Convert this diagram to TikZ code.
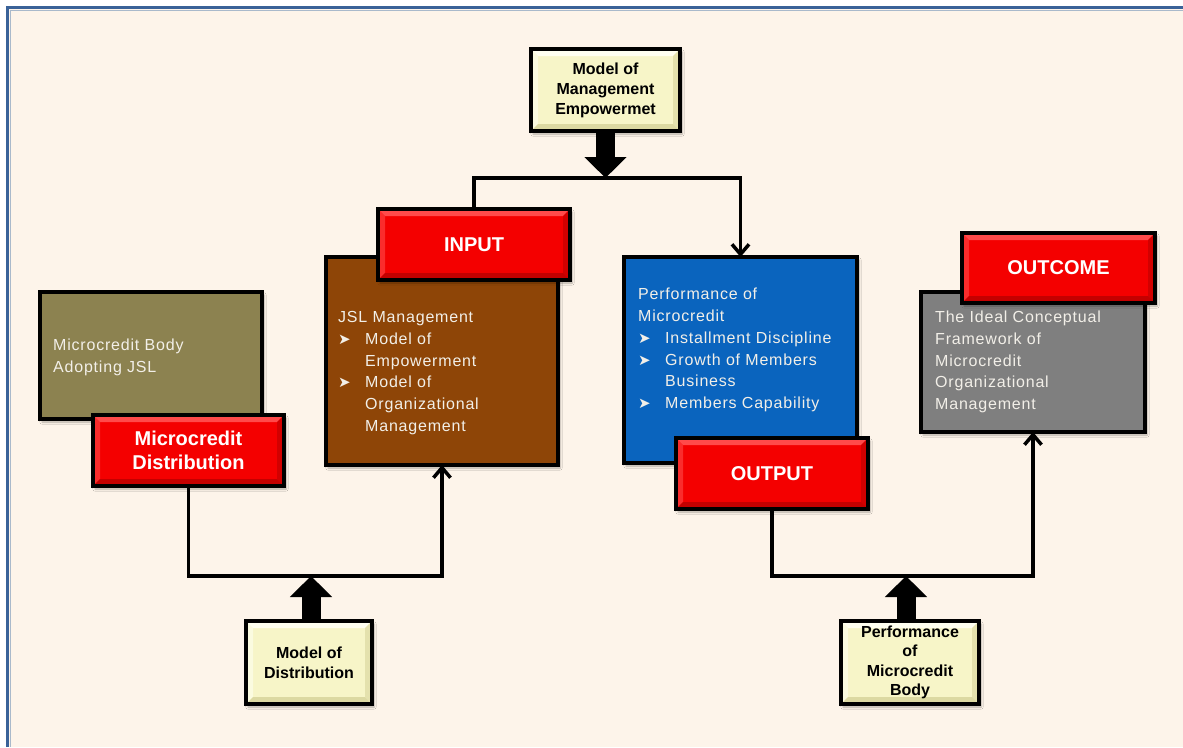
\documentclass[tikz,border=0pt]{standalone}
\usepackage{fontspec}
\setmainfont{Liberation Sans}
\newfontfamily\bodyfont[LetterSpace=5]{Liberation Sans}
\newfontfamily\dejavu{DejaVu Sans}
\usetikzlibrary{arrows.meta,shadows.blur}
\definecolor{bgcream}{HTML}{FDF4EA}
\definecolor{frameblue}{HTML}{3A6298}
\definecolor{framelight}{HTML}{A9B9CB}
\definecolor{olivebox}{HTML}{8C8250}
\definecolor{brownbox}{HTML}{8E4507}
\definecolor{bluebox}{HTML}{0A64BE}
\definecolor{graybox}{HTML}{7F7F7F}
\definecolor{redfill}{HTML}{F40000}
\definecolor{redlight}{HTML}{FF4A4A}
\definecolor{reddark}{HTML}{C40000}
\definecolor{yelfill}{HTML}{F7F5C8}
\definecolor{yellight}{HTML}{FFFFF0}
\definecolor{yeldark}{HTML}{DCD9A2}
\definecolor{bodywhite}{HTML}{F2EFE8}
\newcommand\bevelbox[3]{%
  \fill[#1] (path picture bounding box.north west) -- (path picture bounding box.north east)
    -- ([xshift=-#3,yshift=-#3]path picture bounding box.north east)
    -- ([xshift=#3,yshift=-#3]path picture bounding box.north west) -- cycle;
  \fill[#1,opacity=0.6] (path picture bounding box.north west) -- (path picture bounding box.south west)
    -- ([xshift=#3,yshift=#3]path picture bounding box.south west)
    -- ([xshift=#3,yshift=-#3]path picture bounding box.north west) -- cycle;
  \fill[#2] (path picture bounding box.south west) -- (path picture bounding box.south east)
    -- ([xshift=-#3,yshift=#3]path picture bounding box.south east)
    -- ([xshift=#3,yshift=#3]path picture bounding box.south west) -- cycle;
  \fill[#2,opacity=0.7] (path picture bounding box.north east) -- (path picture bounding box.south east)
    -- ([xshift=-#3,yshift=#3]path picture bounding box.south east)
    -- ([xshift=-#3,yshift=-#3]path picture bounding box.north east) -- cycle;
}
\newcommand\bul{\makebox[27pt][l]{\dejavu\fontsize{15}{15}\selectfont ➤}}
\newcommand\ind{\hspace*{27pt}}
\tikzset{
  boxshadow/.style={blur shadow={shadow xshift=2pt,shadow yshift=-3pt,shadow blur steps=6,shadow opacity=30}},
  plainbox/.style={draw=black, line width=3.5pt, inner sep=0pt, outer sep=0pt, boxshadow},
  redlbl/.style={plainbox, fill=redfill, text=white, align=center,
    font=\fontsize{20}{23.5}\selectfont\bfseries,
    path picture={\bevelbox{redlight}{reddark}{7pt}}},
  yelbox/.style={plainbox, fill=yelfill, text=black, align=center,
    font=\fontsize{16}{20}\selectfont\bfseries,
    path picture={\bevelbox{yellight}{yeldark}{7pt}}},
  bodytext/.style={inner sep=0pt, text=bodywhite, align=left,
    font=\bodyfont\fontsize{16}{21.8}\selectfont},
  conn/.style={draw=black, line width=3.5pt},
  connarrow/.style={conn, -{Straight Barb[length=10pt,width=17pt,line width=3.5pt]}},
  fatarrow/.style={draw=black, line width=19pt, -{Triangle[length=21pt,width=41pt]}},
}
\begin{document}
\begin{tikzpicture}[x=1pt,y=-1pt]
\useasboundingbox (0,0) rectangle (1183,747);
\fill[white] (0,0) rectangle (1183,747);
\fill[bgcream] (8,8) rectangle (1183,747);
\draw[framelight, line width=1.2pt] (10.5,747) -- (10.5,10.5) -- (1183,10.5);
\draw[frameblue, line width=3pt] (7,747) -- (7,7) -- (1183,7);

% top box
\node[yelbox, minimum width=149pt, minimum height=82pt] (mme) at (605.5,90) {Model of\\Management\\Empowermet};

% left group
\node[plainbox, fill=olivebox, minimum width=222pt, minimum height=127pt] (olive) at (151,355.5) {};
\node[bodytext, anchor=west] (olivetxt) at (53,357) {Microcredit Body\\Adopting JSL};
\node[redlbl, minimum width=191pt, minimum height=71pt] (mdist) at (188.5,450.5) {Microcredit\\Distribution};

% input group
\node[plainbox, fill=brownbox, minimum width=232pt, minimum height=208pt] (brown) at (442,361) {};
\node[redlbl, minimum width=192pt, minimum height=71pt] (input) at (474,244.5) {INPUT};
\node[bodytext, anchor=west] (browntxt) at (338,373) {JSL Management\\
\bul Model of\\ \ind Empowerment\\ \bul Model of\\ \ind Organizational\\ \ind Management};

% output group
\node[plainbox, fill=bluebox, minimum width=233pt, minimum height=206pt] (blue) at (740.5,360) {};
\node[bodytext, anchor=west] (bluetxt) at (638,350) {Performance of\\Microcredit\\
\bul Installment Discipline\\ \bul Growth of Members\\ \ind Business\\ \bul Members Capability};
\node[redlbl, minimum width=192pt, minimum height=71pt] (output) at (772,473.5) {OUTPUT};

% outcome group
\node[plainbox, fill=graybox, minimum width=224pt, minimum height=140pt] (gray) at (1033,362) {};
\node[bodytext, anchor=west] (graytxt) at (935,362) {The Ideal Conceptual\\Framework of\\Microcredit\\Organizational\\Management};
\node[redlbl, minimum width=193pt, minimum height=70pt] (outcome) at (1058.5,268) {OUTCOME};

% bottom boxes
\node[yelbox, minimum width=126pt, minimum height=83pt] (mdistr) at (309,662.5) {Model of\\Distribution};
\node[yelbox, minimum width=138pt, minimum height=83pt, font=\fontsize{16}{19.5}\selectfont\bfseries] (pmb) at (910,662.5) {Performance\\of\\Microcredit\\Body};

% junctions
\coordinate (j1) at (605.5,178);
\coordinate (j2) at (311,576);
\coordinate (j3) at (906,576);

% connectors
\draw[fatarrow] (mme.south) -- (j1);
\draw[connarrow] (input.north) |- (j1) -| (blue.north);
\draw[connarrow] (mdist.south) |- (j2) -| (brown.south);
\draw[fatarrow] (mdistr.north -| j2) -- (j2);
\draw[connarrow] (output.south) |- (j3) -| (gray.south);
\draw[fatarrow] (pmb.north -| j3) -- (j3);
\end{tikzpicture}
\end{document}
